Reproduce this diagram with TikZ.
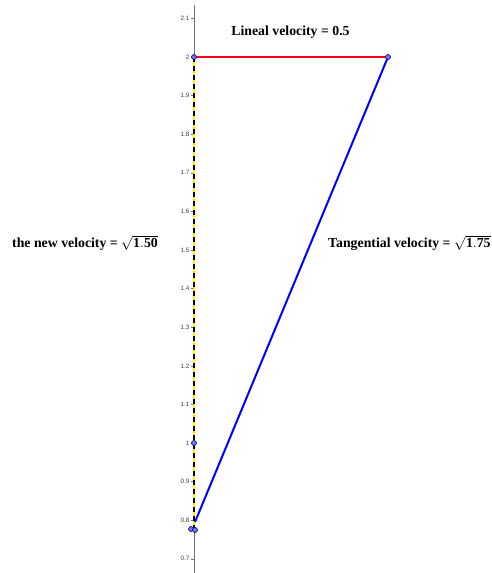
\documentclass[tikz,border=0pt]{standalone}
\usepackage{fontspec}
\setmainfont{Liberation Serif}
\newfontfamily\tickfont{Liberation Sans}
\begin{document}
\begin{tikzpicture}[x=1pt,y=-1pt,
  pt/.style={circle,draw=black!70!blue,fill=blue!55!white,inner sep=0pt,minimum size=5pt,line width=0.6pt},
  lbl/.style={font=\bfseries\fontsize{13.8}{15}\selectfont,inner sep=0pt},
  tick/.style={font=\tickfont\fontsize{6.3}{7}\selectfont,text=black!75,anchor=east,inner sep=0pt}]
\useasboundingbox (0,0) rectangle (492,573);
\fill[white] (0,0) rectangle (492,573);
% axis
\coordinate (axtop) at (194,5);
\coordinate (axbot) at (194,573);
\draw[black!55,line width=0.8pt] (axtop) -- (axbot);
\foreach \v [evaluate=\v as \yy using {57+(2-\v)*386}] in {0.7,0.8,0.9,1,1.1,1.2,1.3,1.4,1.5,1.6,1.7,1.8,1.9,2,2.1}{
  \draw[black!55,line width=0.6pt] (191,\yy) -- (194,\yy);
  \node[tick] at (189.5,\yy) {\v};
}
% points
\coordinate (A) at (194,57);
\coordinate (B) at (388,57);
\coordinate (C) at (194,443);
\coordinate (D) at (194,528);
% yellow dashed segment
\draw[yellow!95!orange,line width=2.2pt] (A) -- (D);
\draw[black,line width=2.2pt,dash pattern=on 5pt off 4pt] (A) -- (D);
% red
\draw[red!90!magenta,line width=2pt] (A) -- (B);
% blue
\draw[blue,line width=2pt] (B) -- (195,522);
\node[pt] (pA) at (A) {};
\node[pt] (pB) at (B) {};
\node[pt] (pC) at (C) {};
\node[pt] (pD1) at (191,529) {};
\node[pt] (pD2) at (195,530) {};
% labels
\node[lbl] (l1) at (290.5,32) {Lineal velocity = 0.5};
\node[lbl,anchor=west] (l2) at (12,243) {the new velocity = $\sqrt{\mathbf{1.50}}$};
\node[lbl,anchor=west] (l3) at (328,243) {Tangential velocity = $\sqrt{\mathbf{1.75}}$};
\end{tikzpicture}
\end{document}
